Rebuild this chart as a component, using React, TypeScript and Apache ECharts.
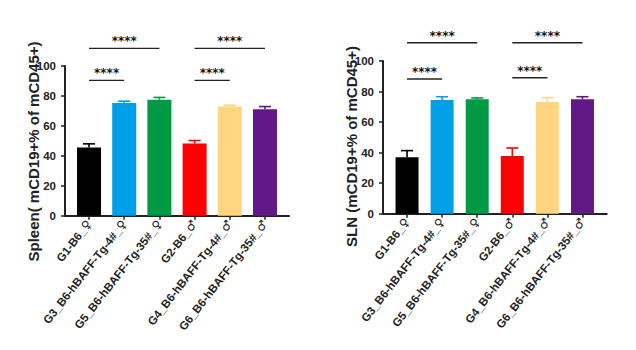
import React, { useEffect, useRef } from 'react';
import * as echarts from 'echarts';

const categories = [
  'G1-B6_♀',
  'G3_B6-hBAFF-Tg-4#_♀',
  'G5_B6-hBAFF-Tg-35#_♀',
  'G2-B6_♂',
  'G4_B6-hBAFF-Tg-4#_♂',
  'G6_B6-hBAFF-Tg-35#_♂',
];
const barColors = ['#000000', '#00A0E9', '#009944', '#FF0000', '#FFD57F', '#601986'];

const spleenMean = [45.5, 75.3, 77.5, 48.2, 72.9, 71.1];
const spleenErr = [2.5, 1.2, 1.5, 2.0, 0.9, 1.8];
const slnMean = [36.9, 74.5, 74.9, 37.8, 73.1, 74.9];
const slnErr = [4.4, 2.1, 0.9, 5.2, 2.9, 1.7];

const yMin = 0;
const yMax = 100;
const yStep = 20;

// significance brackets: [from index, to index, height in axis units]
const spleenSig = [
  [0, 1, 90.4],
  [0, 2, 111.8],
  [3, 4, 90.4],
  [3, 5, 111.8],
];
const slnSig = [
  [0, 1, 88.2],
  [0, 2, 112],
  [3, 4, 89],
  [3, 5, 112],
];
const sigLabel = '****';

const spleenTitle = 'Spleen( mCD19+% of mCD45+)';
const slnTitle = 'SLN (mCD19+% of mCD45+)';

const AXIS_COLOR = '#222';
const FONT = "'Liberation Sans', Arial, 'DejaVu Sans', sans-serif";

function labelFormatter(v: string) {
  const body = v.slice(0, -1);
  const sym = v.slice(-1);
  return '{b|' + body + '}{g|' + sym + '}';
}

function buildPanel(
  gi: number,
  mean: number[],
  err: number[],
  sig: number[][],
  barWidth: number,
  axisOffset: number
) {
  const barGrid = gi * 2;
  const lineGrid = gi * 2 + 1;
  const xAxes = [
    {
      type: 'category',
      gridIndex: barGrid,
      data: categories,
      axisLine: { show: false },
      axisTick: { show: true, alignWithLabel: true, length: 4, lineStyle: { color: AXIS_COLOR, width: 1.5 } },
      axisLabel: {
        interval: 0,
        rotate: 52,
        margin: 6,
        color: AXIS_COLOR,
        formatter: labelFormatter,
        rich: {
          b: { fontSize: 11.5, fontWeight: 'bold', fontFamily: FONT, color: AXIS_COLOR },
          g: { fontSize: 12, fontWeight: 'bold', fontFamily: "'DejaVu Sans', sans-serif", color: AXIS_COLOR },
        },
      },
    },
    {
      type: 'value',
      gridIndex: lineGrid,
      min: 0,
      max: 1,
      axisLine: { show: true, onZero: false, lineStyle: { color: AXIS_COLOR, width: 2 } },
      axisTick: { show: false },
      axisLabel: { show: false },
      splitLine: { show: false },
    },
  ];
  const yAxes = [
    {
      type: 'value',
      gridIndex: barGrid,
      min: yMin,
      max: yMax,
      interval: yStep,
      offset: axisOffset,
      axisLine: { show: true, lineStyle: { color: AXIS_COLOR, width: 2 } },
      axisTick: { show: true, length: 4, lineStyle: { color: AXIS_COLOR, width: 1.5 } },
      axisLabel: {
        margin: 9,
        fontSize: 11.5,
        fontWeight: 'bold',
        fontFamily: "'Liberation Sans Narrow', 'Liberation Sans', sans-serif",
        color: AXIS_COLOR,
      },
      splitLine: { show: false },
    },
    {
      type: 'value',
      gridIndex: lineGrid,
      show: false,
      min: 0,
      max: 1,
    },
  ];
  const series = [
    {
      type: 'bar',
      xAxisIndex: gi * 2,
      yAxisIndex: gi * 2,
      barWidth,
      data: mean.map((v, i) => ({ value: v, itemStyle: { color: barColors[i] } })),
      z: 2,
    },
    {
      type: 'custom',
      xAxisIndex: gi * 2,
      yAxisIndex: gi * 2,
      z: 3,
      encode: { x: 0, y: [1, 2] },
      data: mean.map((v, i) => [i, v, v + err[i]]),
      renderItem: (params: any, api: any) => {
        const idx = api.value(0);
        const p0 = api.coord([idx, api.value(1)]);
        const p1 = api.coord([idx, api.value(2)]);
        const c = barColors[idx];
        const half = 6;
        return {
          type: 'group',
          children: [
            { type: 'line', shape: { x1: p0[0], y1: p0[1], x2: p1[0], y2: p1[1] }, style: { stroke: c, lineWidth: 1.6 } },
            { type: 'line', shape: { x1: p1[0] - half, y1: p1[1], x2: p1[0] + half, y2: p1[1] }, style: { stroke: c, lineWidth: 1.6 } },
          ],
        };
      },
    },
    {
      type: 'custom',
      xAxisIndex: gi * 2,
      yAxisIndex: gi * 2,
      z: 3,
      clip: false,
      itemStyle: { color: '#111' },
      encode: { x: [0, 1], y: 2 },
      data: sig,
      renderItem: (params: any, api: any) => {
        const a = api.coord([api.value(0), api.value(2)]);
        const b = api.coord([api.value(1), api.value(2)]);
        return {
          type: 'group',
          children: [
            { type: 'line', shape: { x1: a[0], y1: a[1], x2: b[0], y2: b[1] }, style: { stroke: '#222', lineWidth: 1.4 } },
            {
              type: 'text',
              x: (a[0] + b[0]) / 2,
              y: a[1] - 7,
              style: {
                text: sigLabel,
                align: 'center',
                verticalAlign: 'middle',
                fontSize: 12,
                fontWeight: 'bold',
                fontFamily: "'DejaVu Sans', sans-serif",
                fill: '#111',
                stroke: 'none',
              },
            },
          ],
        };
      },
    },
  ];
  return { xAxes, yAxes, series };
}

export default function App() {
  const ref = useRef<HTMLDivElement>(null);
  useEffect(() => {
    if (!ref.current) return;
    const chart = echarts.init(ref.current, undefined, { renderer: 'svg' });
    const left = buildPanel(0, spleenMean, spleenErr, spleenSig, 24, 6.4);
    const right = buildPanel(1, slnMean, slnErr, slnSig, 23, 6.5);
    chart.setOption({
      animation: false,
      backgroundColor: '#ffffff',
      grid: [
        { left: 71.4, top: 66, width: 211.2, height: 149.7 },
        { left: 65, top: 66, width: 224, height: 149.7 },
        { left: 389.5, top: 61, width: 210.5, height: 152.7 },
        { left: 383, top: 61, width: 223.7, height: 152.7 },
      ],
      xAxis: [...left.xAxes, ...right.xAxes],
      yAxis: [...left.yAxes, ...right.yAxes],
      series: [...left.series, ...right.series],
      graphic: [
        {
          type: 'text',
          x: 33.5,
          y: 151.5,
          rotation: Math.PI / 2,
          style: {
            text: spleenTitle,
            align: 'center',
            verticalAlign: 'middle',
            fontSize: 15,
            fontWeight: 'bold',
            fontFamily: FONT,
            fill: AXIS_COLOR,
          },
        },
        {
          type: 'text',
          x: 351.7,
          y: 146.5,
          rotation: Math.PI / 2,
          style: {
            text: slnTitle,
            align: 'center',
            verticalAlign: 'middle',
            fontSize: 15,
            fontWeight: 'bold',
            fontFamily: FONT,
            fill: AXIS_COLOR,
          },
        },
      ],
    });
    return () => chart.dispose();
  }, []);
  return (
    <div
      ref={ref}
      style={{ position: 'absolute', left: 0, top: 0, width: 636, height: 350, background: '#fff' }}
    />
  );
}
